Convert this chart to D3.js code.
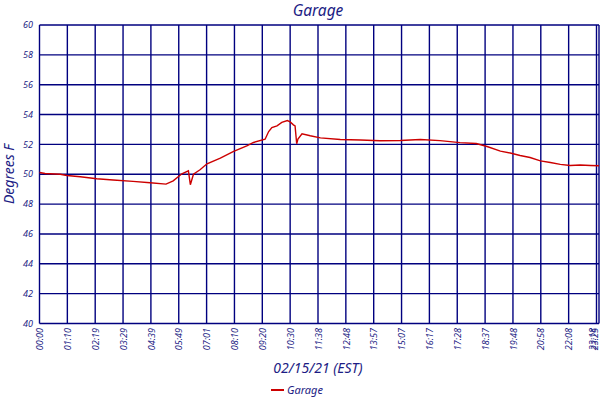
<!DOCTYPE html>
<html lang="en">
<head>
<meta charset="UTF-8">
<title>Garage</title>
<script src="https://d3js.org/d3.v7.min.js"></script>
<style>
    body { margin: 0; background: #fff; }
    text { font-family: "Noto Sans", "DejaVu Sans", sans-serif; font-style: italic; fill: #1c1c84; }
</style>
</head>
<body>
<svg id="chart" width="600" height="400"></svg>
<script>
// tick labels on the time axis (one every ~70 samples), plus the last sample
const tickLabels = ["00:00","01:10","02:19","03:29","04:39","05:49","07:01","08:10","09:20","10:30",
                    "11:38","12:48","13:57","15:07","16:17","17:28","18:37","19:48","20:58","22:08","23:18","23:25"];
const yTicks = [40, 42, 44, 46, 48, 50, 52, 54, 56, 58, 60];

// temperature readings (time, degrees F)
const times = ["00:00","00:14","00:52","01:09","01:42","02:23","03:04","03:54","04:37","05:17",
               "05:35","05:57","06:14","06:19","06:27","06:44","07:02","07:35","08:08","08:41",
               "08:58","09:27","09:36","09:44","09:57","10:09","10:23","10:30","10:38","10:42",
               "10:46","10:49","10:59","11:19","11:44","12:34","13:24","14:13","15:04","15:54",
               "16:44","17:35","18:15","18:42","19:16","19:41","20:06","20:31","20:57","21:22",
               "21:47","22:12","22:37","23:03","23:25"];
const temps = [50.12,50.05,50.0,49.92,49.83,49.7,49.61,49.52,49.43,49.34,
               49.56,50.03,50.23,49.3,50.0,50.3,50.7,51.08,51.53,51.9,
               52.13,52.35,52.86,53.13,53.24,53.47,53.6,53.51,53.31,53.24,
               52.04,52.35,52.71,52.58,52.44,52.33,52.29,52.24,52.26,52.33,
               52.25,52.12,52.06,51.86,51.55,51.42,51.26,51.12,50.9,50.79,
               50.66,50.59,50.62,50.59,50.57];

const toMin = s => { const [h, m] = s.split(":").map(Number); return h * 60 + m; };

const svg = d3.select("#chart");
const plotL = 39.5, plotR = 599, plotT = 25, plotB = 323.5;
const step = 27.85;
const navy = "#00007f";

// ticks are evenly spaced by sample count, so map minutes piecewise onto them
const tickMin = tickLabels.map(toMin);
const tickPos = tickLabels.map((d, i) => i === tickLabels.length - 1 ? plotR : plotL + i * step);
const x = d3.scaleLinear().domain(tickMin).range(tickPos);
const y = d3.scaleLinear().domain([40, 60]).range([plotB, plotT]);

const grid = svg.append("g").attr("stroke", navy).attr("stroke-width", 1.4);
grid.selectAll("line.h").data(yTicks).join("line")
    .attr("x1", plotL).attr("x2", plotR)
    .attr("y1", d => y(d)).attr("y2", d => y(d));
grid.selectAll("line.v").data(tickMin).join("line")
    .attr("x1", d => x(d)).attr("x2", d => x(d))
    .attr("y1", plotT).attr("y2", plotB);

// y tick labels
svg.append("g").selectAll("text").data(yTicks).join("text")
    .attr("x", 33).attr("y", d => y(d)).attr("dy", "0.35em")
    .attr("text-anchor", "end").attr("font-size", 9)
    .text(d => d);

// x tick labels, rotated (the last two nudged in so they stay on the page)
svg.append("g").selectAll("text").data(tickLabels).join("text")
    .attr("transform", (d, i) => `translate(${x(tickMin[i]) + (i >= 20 ? -4 : 0.5)},328) rotate(-90)`)
    .attr("dy", "0.35em").attr("text-anchor", "end").attr("font-size", 9)
    .text(d => d);

// temperature line
const line = d3.line().x(d => x(toMin(d[0]))).y(d => y(d[1]));
svg.append("path")
    .datum(d3.zip(times, temps))
    .attr("fill", "none").attr("stroke", "#cc0000").attr("stroke-width", 1.4)
    .attr("d", line);

// titles
svg.append("text").attr("x", 318).attr("y", 16).attr("text-anchor", "middle")
    .attr("font-size", 15.5).text("Garage");
svg.append("text").attr("transform", "translate(14,174) rotate(-90)")
    .attr("text-anchor", "middle").attr("font-size", 14).text("Degrees F");
svg.append("text").attr("x", 318).attr("y", 373).attr("text-anchor", "middle")
    .attr("font-size", 14).text("02/15/21 (EST)");

// legend
svg.append("line").attr("x1", 271).attr("x2", 284).attr("y1", 390).attr("y2", 390)
    .attr("stroke", "#cc0000").attr("stroke-width", 2);
svg.append("text").attr("x", 287).attr("y", 394).attr("font-size", 11).text("Garage");
</script>
</body>
</html>
